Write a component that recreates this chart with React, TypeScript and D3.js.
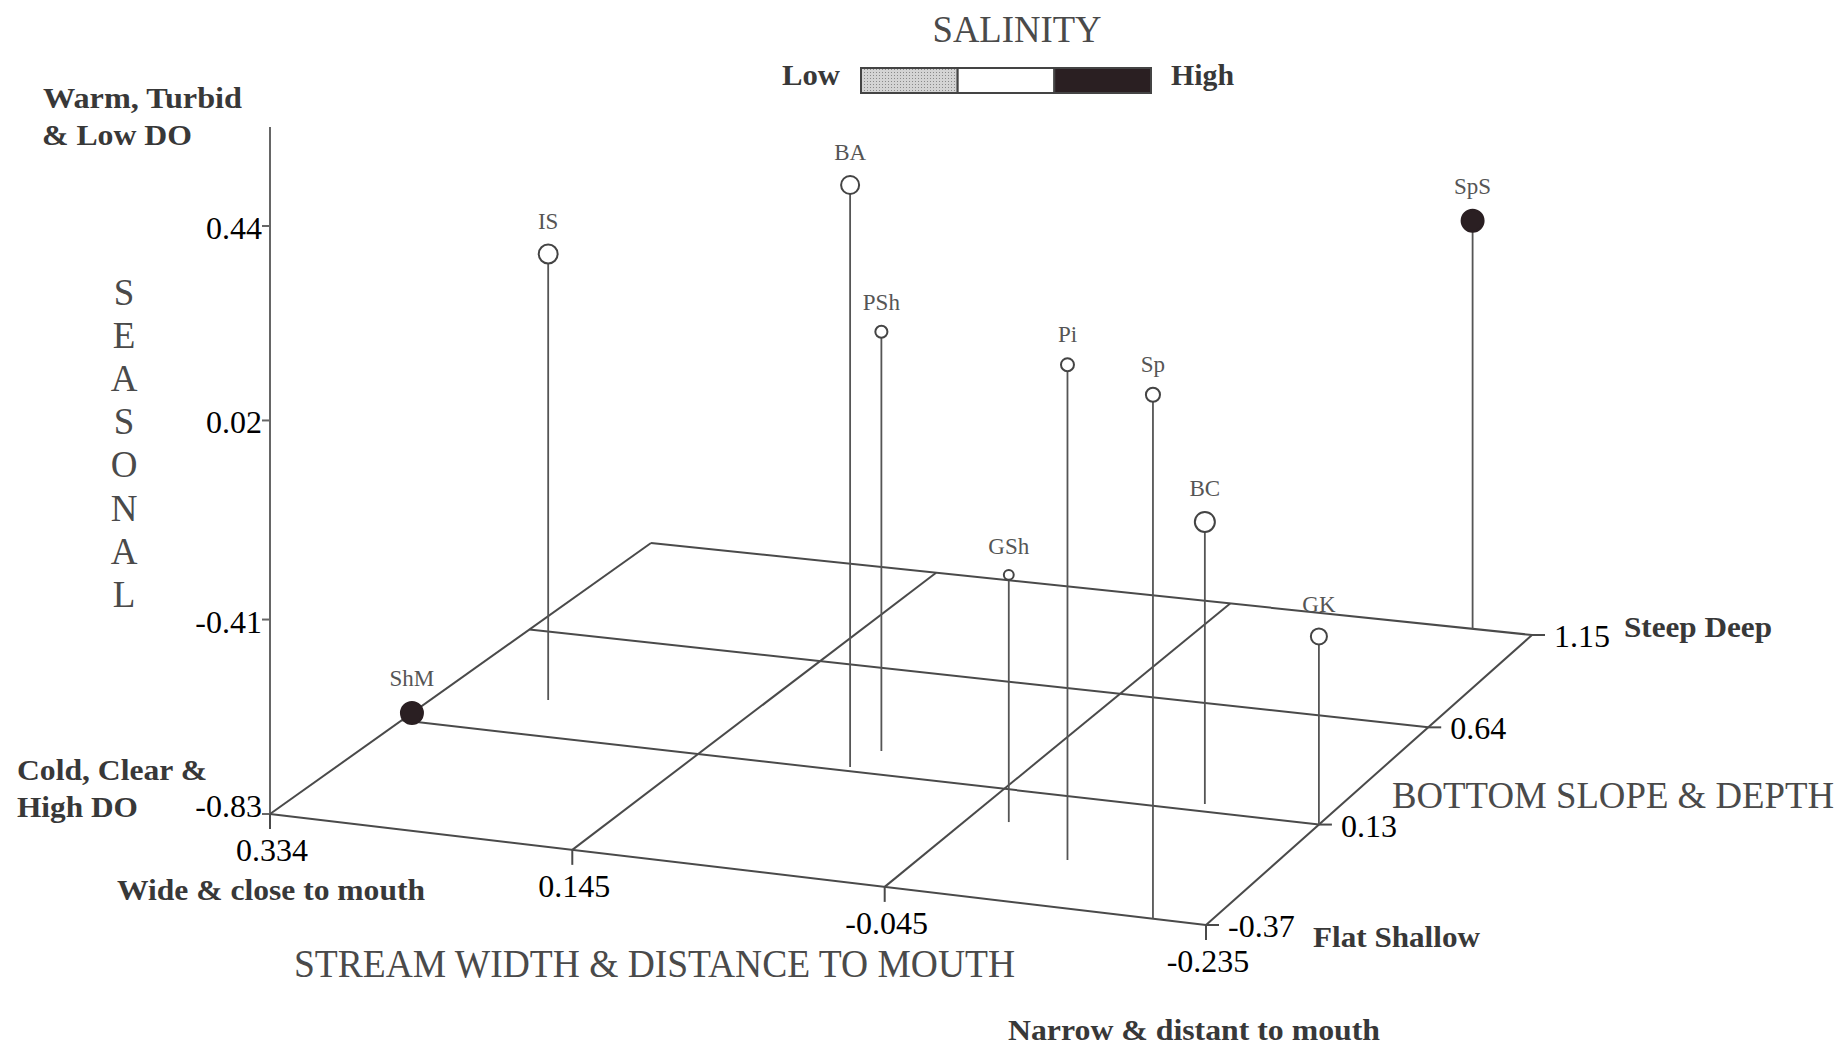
import React from 'react';
import * as d3 from 'd3';

// ---------------- data ----------------
const sites = ['ShM', 'IS', 'BA', 'PSh', 'GSh', 'Pi', 'Sp', 'BC', 'GK', 'SpS'];
const streamWidth = [0.334, 0.268, 0.053, 0.047, -0.069, -0.124, -0.204, -0.162, -0.235, -0.198];
const bottomSlope = [0.17, 0.305, 0.15, 0.241, -0.019, -0.158, -0.37, 0.165, 0.13, 1.15];
const seasonal = [-0.83, 0.162, 0.435, 0.085, -0.302, 0.216, 0.258, -0.226, -0.43, 0.086];
const relativeSize = [1.0, 0.86, 0.82, 0.55, 0.45, 0.59, 0.64, 0.91, 0.73, 1.0];
const salinity = ['High', 'Medium', 'Medium', 'Medium', 'Medium', 'Medium', 'Medium', 'Medium', 'Medium', 'High'];

const widthTicks = [0.334, 0.145, -0.045, -0.235];
const slopeTicks = [-0.37, 0.13, 0.64, 1.15];
const seasonalTicks = [0.44, 0.02, -0.41, -0.83];
const salinityLevels = ['Low', 'Medium', 'High'];
const seasonalTitle = 'SEASONAL';

// ---------------- layout ----------------
const W = 1845;
const H = 1047;
const corner0: [number, number] = [270, 814]; // width max, slope min
const corner1: [number, number] = [1206, 925]; // width min, slope min
const corner2: [number, number] = [1532, 635]; // width min, slope max
const corner3: [number, number] = [651, 543]; // width max, slope max
const verticalSpan = 588;

function makeHomography(p0: number[], p1: number[], p2: number[], p3: number[]) {
  const sx = p0[0] - p1[0] + p2[0] - p3[0];
  const sy = p0[1] - p1[1] + p2[1] - p3[1];
  const dx1 = p1[0] - p2[0], dx2 = p3[0] - p2[0];
  const dy1 = p1[1] - p2[1], dy2 = p3[1] - p2[1];
  const det = dx1 * dy2 - dx2 * dy1;
  const g = (sx * dy2 - dx2 * sy) / det;
  const h = (dx1 * sy - sx * dy1) / det;
  const a = p1[0] - p0[0] + g * p1[0];
  const b = p3[0] - p0[0] + h * p3[0];
  const c = p0[0];
  const d = p1[1] - p0[1] + g * p1[1];
  const e = p3[1] - p0[1] + h * p3[1];
  const f = p0[1];
  return (u: number, v: number) => {
    const w = g * u + h * v + 1;
    return { x: (a * u + b * v + c) / w, y: (d * u + e * v + f) / w, w };
  };
}

const project = makeHomography(corner0, corner1, corner2, corner3);
const uScale = d3.scaleLinear().domain([0.334, -0.235]).range([0, 1]);
const vScale = d3.scaleLinear().domain([-0.37, 1.15]).range([0, 1]);
const hScale = d3.scaleLinear().domain([-0.83, 0.44]).range([0, verticalSpan]);
const rScale = d3.scaleLinear().domain([0, 1]).range([0, 11]);
const fillScale = d3.scaleOrdinal<string, string>().domain(salinityLevels).range(['url(#stipple)', '#ffffff', '#2a1f22']);

const serif = '"Liberation Serif", "Times New Roman", serif';
const gridColor = '#4a4a4a';
const labelGray = '#4a4a4a';
const numSize = 32;

export default function App() {
  const line = d3.line<{ x: number; y: number }>().x((p) => p.x).y((p) => p.y);

  const xGrid = widthTicks.map((t) => [project(uScale(t), 0), project(uScale(t), 1)]);
  const zGrid = slopeTicks.map((t) => [project(0, vScale(t)), project(1, vScale(t))]);

  const axisX = corner0[0];
  const axisBase = corner0[1];

  const points = sites.map((name, i) => {
    const base = project(uScale(streamWidth[i]), vScale(bottomSlope[i]));
    const top = base.y - hScale(seasonal[i]) / base.w;
    return { name, bx: base.x, by: base.y, ty: top, r: rScale(relativeSize[i]), fill: fillScale(salinity[i]) };
  });

  const boldText = (txt: string, x: number, y: number, len: number) => (
    <text key={txt + x} x={x} y={y} fontFamily={serif} fontWeight="bold" fontSize={30} fill="#383838" textLength={len} lengthAdjust="spacingAndGlyphs">
      {txt}
    </text>
  );

  const legendX = d3.scaleBand().domain(salinityLevels).range([861, 1151]);

  return (
    <svg width={W} height={H} style={{ position: 'absolute', left: 0, top: 0, background: '#fff' }}>
      <defs>
        <pattern id="stipple" width={3} height={3} patternUnits="userSpaceOnUse">
          <rect width={3} height={3} fill="#d4d4d4" />
          <rect width={1} height={1} fill="#8a8a8a" />
        </pattern>
      </defs>
      <rect width={W} height={H} fill="#fff" />

      {/* Salinity legend */}
      <text x={1017} y={42} textAnchor="middle" fontFamily={serif} fontSize={38} fill={labelGray} textLength={169} lengthAdjust="spacingAndGlyphs">SALINITY</text>
      {boldText('Low', 782, 85, 58)}
      {boldText('High', 1171, 85, 63)}
      {salinityLevels.map((lv) => (
        <rect key={lv} x={legendX(lv)} y={68} width={legendX.bandwidth()} height={25} fill={fillScale(lv)} stroke="#444" strokeWidth={2} />
      ))}

      {/* Vertical axis labels */}
      {boldText('Warm, Turbid', 43, 108, 199)}
      {boldText('& Low DO', 42, 145, 150)}
      {boldText('Cold, Clear &', 17, 780, 190)}
      {boldText('High DO', 17, 817, 121)}
      {seasonalTitle.split('').map((ch, i) => (
        <text key={i} x={124} y={305 + i * 43.1} textAnchor="middle" fontFamily={serif} fontSize={37} fill={labelGray}>{ch}</text>
      ))}

      {/* vertical axis */}
      <line x1={axisX} x2={axisX} y1={axisBase + 15} y2={axisBase - verticalSpan - 99} stroke="#666" strokeWidth={2} />
      {seasonalTicks.map((t, i) => {
        const y = axisBase - hScale(t);
        const last = i === seasonalTicks.length - 1;
        return (
          <g key={t}>
            <line x1={axisX - 8} x2={axisX} y1={y} y2={y} stroke="#666" strokeWidth={2} />
            <text x={axisX - 8} y={y + (last ? 3 : 13)} textAnchor="end" fontFamily={serif} fontSize={numSize} fill="#000">{t}</text>
          </g>
        );
      })}

      {/* floor grid */}
      {xGrid.map((seg, i) => (
        <path key={'xg' + i} d={line(seg) as string} stroke={gridColor} strokeWidth={2} fill="none" />
      ))}
      {zGrid.map((seg, i) => (
        <path key={'zg' + i} d={line(seg) as string} stroke={gridColor} strokeWidth={2} fill="none" />
      ))}

      {/* width ticks (front edge) */}
      {widthTicks.map((t) => {
        const p = project(uScale(t), 0);
        return (
          <g key={'wt' + t}>
            <line x1={p.x} x2={p.x} y1={p.y} y2={p.y + 15} stroke={gridColor} strokeWidth={2} />
            <text x={p.x + 2} y={p.y + 47} textAnchor="middle" fontFamily={serif} fontSize={numSize} fill="#000">{t}</text>
          </g>
        );
      })}

      {/* slope ticks (right edge) */}
      {slopeTicks.map((t) => {
        const p = project(1, vScale(t));
        return (
          <g key={'st' + t}>
            <line x1={p.x} x2={p.x + 13} y1={p.y} y2={p.y} stroke={gridColor} strokeWidth={2} />
            <text x={p.x + 22} y={p.y + 12} textAnchor="start" fontFamily={serif} fontSize={numSize} fill="#000">{t}</text>
          </g>
        );
      })}

      {/* axis titles */}
      {boldText('Wide & close to mouth', 117, 900, 308)}
      {boldText('Narrow & distant to mouth', 1008, 1040, 372)}
      {boldText('Flat Shallow', 1313, 947, 167)}
      {boldText('Steep Deep', 1624, 637, 148)}
      <text x={294} y={977} fontFamily={serif} fontSize={41} fill={labelGray} textLength={721} lengthAdjust="spacingAndGlyphs">STREAM WIDTH &amp; DISTANCE TO MOUTH</text>
      <text x={1392} y={808} fontFamily={serif} fontSize={37} fill={labelGray} textLength={442} lengthAdjust="spacingAndGlyphs">BOTTOM SLOPE &amp; DEPTH</text>

      {/* stems and points */}
      {points.map((p) => (
        <g key={p.name}>
          {p.by - p.ty > 0.5 && (
            <line x1={p.bx} x2={p.bx} y1={p.by} y2={p.ty} stroke="#555" strokeWidth={1.8} />
          )}
          <circle cx={p.bx} cy={p.ty} r={p.r} fill={p.fill} stroke={p.fill === '#ffffff' ? '#444' : '#2a1f22'} strokeWidth={2} />
          <text x={p.bx} y={p.ty - p.r - 16} textAnchor="middle" fontFamily={serif} fontSize={23} fill="#555">{p.name}</text>
        </g>
      ))}
    </svg>
  );
}
